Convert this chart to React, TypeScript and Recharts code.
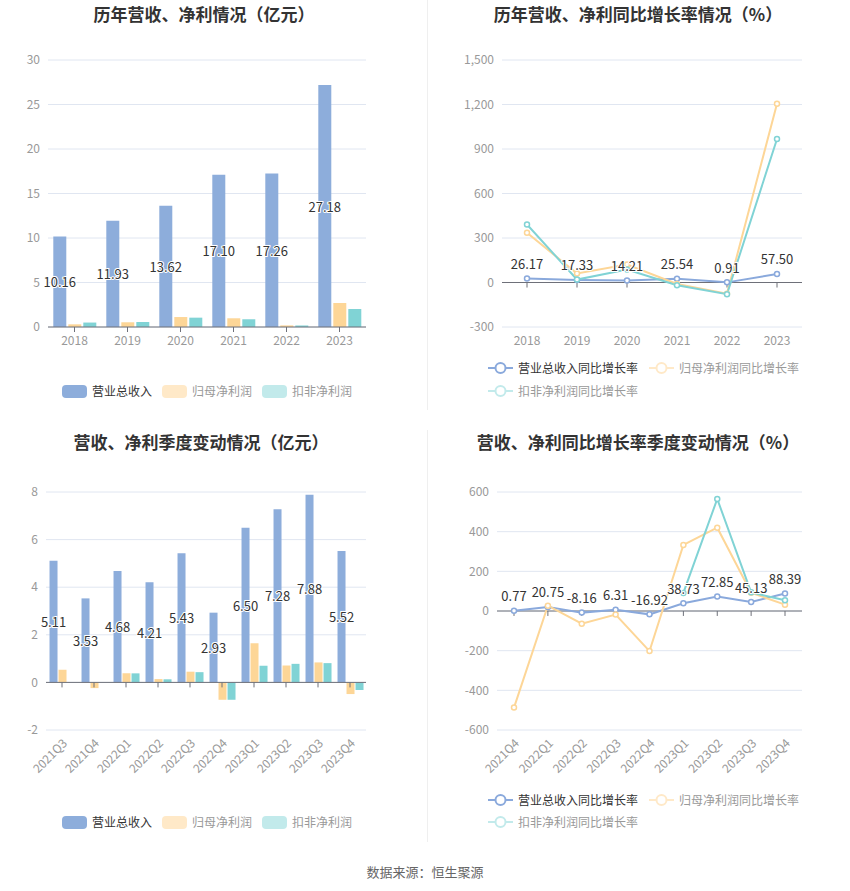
import React from 'react';
import {
  BarChart,
  Bar,
  LineChart,
  Line,
  XAxis,
  YAxis,
  CartesianGrid,
  ReferenceLine,
  LabelList,
} from 'recharts';

// ---------- DATA ----------
const years = ['2018', '2019', '2020', '2021', '2022', '2023'];
const annualRevenue = [10.16, 11.93, 13.62, 17.1, 17.26, 27.18];
const annualNetProfit = [0.3, 0.53, 1.12, 0.98, 0.18, 2.7];
const annualDeducted = [0.5, 0.56, 1.05, 0.87, 0.17, 2.02];

const annualRevenueYoY = [26.17, 17.33, 14.21, 25.54, 0.91, 57.5];
const annualNetProfitYoY = [335, 61, 121, -10, -75, 1205];
const annualDeductedYoY = [391, 20, 88, -18, -79, 967];

const quarters = ['2021Q3', '2021Q4', '2022Q1', '2022Q2', '2022Q3', '2022Q4', '2023Q1', '2023Q2', '2023Q3', '2023Q4'];
const qRevenue = [5.11, 3.53, 4.68, 4.21, 5.43, 2.93, 6.5, 7.28, 7.88, 5.52];
const qNetProfit = [0.53, -0.24, 0.38, 0.14, 0.45, -0.73, 1.64, 0.71, 0.84, -0.49];
const qDeducted: (number | null)[] = [null, null, 0.38, 0.13, 0.43, -0.73, 0.7, 0.78, 0.81, -0.32];

const yoyQuarters = ['2021Q4', '2022Q1', '2022Q2', '2022Q3', '2022Q4', '2023Q1', '2023Q2', '2023Q3', '2023Q4'];
const qRevenueYoY = [0.77, 20.75, -8.16, 6.31, -16.92, 38.73, 72.85, 45.13, 88.39];
const qNetProfitYoY = [-487, 27, -64, -18, -202, 333, 420, 92, 32];
const qDeductedYoY: (number | null)[] = [null, null, null, null, null, 91, 565, 94, 54];

const ticks1 = [0, 5, 10, 15, 20, 25, 30];
const ticks2 = [-300, 0, 300, 600, 900, 1200, 1500];
const ticks3 = [-2, 0, 2, 4, 6, 8];
const ticks4 = [-600, -400, -200, 0, 200, 400, 600];

const titles = [
  '历年营收、净利情况（亿元）',
  '历年营收、净利同比增长率情况（%）',
  '营收、净利季度变动情况（亿元）',
  '营收、净利同比增长率季度变动情况（%）',
];
const barLegend = ['营业总收入', '归母净利润', '扣非净利润'];
const lineLegend = ['营业总收入同比增长率', '归母净利润同比增长率', '扣非净利润同比增长率'];
const source = '数据来源：恒生聚源';

// ---------- TABLES ----------
const annualBars = years.map((c, i) => ({ c, rev: annualRevenue[i], np: annualNetProfit[i], dp: annualDeducted[i] }));
const annualLines = years.map((c, i) => ({ c, rev: annualRevenueYoY[i], np: annualNetProfitYoY[i], dp: annualDeductedYoY[i] }));
const qBars = quarters.map((c, i) => ({ c, rev: qRevenue[i], np: qNetProfit[i], dp: qDeducted[i] }));
const qLines = yoyQuarters.map((c, i) => ({ c, rev: qRevenueYoY[i], np: qNetProfitYoY[i], dp: qDeductedYoY[i] }));

// ---------- STYLE ----------
const FONT = "'Microsoft YaHei', 'Noto Sans CJK SC', sans-serif";
const BLUE = '#8DADDB';
const ORANGE = '#FDD697';
const CYAN = '#80D3D5';
const BLUE_L = '#8AA9DC';
const AXIS = '#6E7079';
const GRID = '#E0E6F1';
const TICK_COLOR = '#999';

const fmt2 = (v: any) => (typeof v === 'number' ? v.toFixed(2) : v);
const fmtThousands = (v: number) => v.toLocaleString('en-US');

const BarValueLabel = (props: any) => {
  const { x, y, width, height, value } = props;
  if (value == null) return null;
  return (
    <text
      x={x + width / 2}
      y={y + height / 2}
      textAnchor="middle"
      dominantBaseline="central"
      fill="#333"
      stroke="#fff"
      strokeWidth={2}
      paintOrder="stroke"
      fontSize={13}
      fontFamily={FONT}
    >
      {fmt2(value)}
    </text>
  );
};

const PointValueLabel = (props: any) => {
  const { x, y, value } = props;
  if (value == null) return null;
  return (
    <text
      x={x}
      y={y - 15}
      textAnchor="middle"
      dominantBaseline="central"
      fill="#333"
      stroke="#fff"
      strokeWidth={2}
      paintOrder="stroke"
      fontSize={13}
      fontFamily={FONT}
    >
      {fmt2(value)}
    </text>
  );
};

const tickStyle = { fill: TICK_COLOR, fontSize: 12, fontFamily: FONT };

const dotStyle = (color: string) => ({ r: 2.5, stroke: color, strokeWidth: 1.5, fill: '#fff' });

const Title = ({ text, cx, cy }: { text: string; cx: number; cy: number }) => (
  <div
    style={{
      position: 'absolute',
      left: cx - 200,
      width: 400,
      top: cy - 12,
      height: 24,
      lineHeight: '24px',
      textAlign: 'center',
      fontSize: 17,
      fontWeight: 700,
      color: '#333',
      fontFamily: FONT,
      whiteSpace: 'nowrap',
    }}
  >
    {text}
  </div>
);

const BarLegendItem = ({ x, cy, color, text, textColor }: any) => (
  <div style={{ position: 'absolute', left: x, top: cy - 9, height: 18, display: 'flex', alignItems: 'center', fontFamily: FONT }}>
    <div style={{ width: 25, height: 13, borderRadius: 4, background: color }} />
    <span style={{ marginLeft: 5, fontSize: 12, color: textColor, lineHeight: '18px' }}>{text}</span>
  </div>
);

const LineLegendItem = ({ x, cy, color, text, textColor }: any) => (
  <div style={{ position: 'absolute', left: x, top: cy - 9, height: 18, display: 'flex', alignItems: 'center', fontFamily: FONT }}>
    <svg width={25} height={14}>
      <line x1={0} y1={7} x2={25} y2={7} stroke={color} strokeWidth={2} />
      <circle cx={12.5} cy={7} r={5} stroke={color} strokeWidth={2} fill="#fff" />
    </svg>
    <span style={{ marginLeft: 5, fontSize: 12, color: textColor, lineHeight: '18px' }}>{text}</span>
  </div>
);

const zeroTicks = (cats: string[], len: number) =>
  cats.map((c) => (
    <ReferenceLine key={'t' + c} segment={[{ x: c, y: 0 }, { x: c, y: -len }]} stroke={AXIS} strokeWidth={1} />
  ));

export default function App() {
  return (
    <div style={{ position: 'absolute', left: 0, top: 0, width: 850, height: 891, background: '#fff', fontFamily: FONT }}>
      {/* separators */}
      <div style={{ position: 'absolute', left: 427, top: 0, width: 1, height: 410, background: '#EFEFEF' }} />
      <div style={{ position: 'absolute', left: 427, top: 430, width: 1, height: 412, background: '#EFEFEF' }} />

      <Title text={titles[0]} cx={204} cy={14} />
      <Title text={titles[1]} cx={638} cy={14} />
      <Title text={titles[2]} cx={201} cy={442} />
      <Title text={titles[3]} cx={638} cy={442} />

      {/* Chart 1 */}
      <div style={{ position: 'absolute', left: 0, top: 0 }}>
        <BarChart width={425} height={360} data={annualBars} margin={{ top: 60, right: 59, left: 0, bottom: 3 }} barCategoryGap="10%" barGap={2}>
          <CartesianGrid vertical={false} stroke={GRID} />
          <XAxis dataKey="c" height={30} tick={tickStyle} axisLine={{ stroke: AXIS }} tickLine={{ stroke: AXIS }} tickSize={5} tickMargin={4} />
          <YAxis width={48} domain={[0, 30]} ticks={ticks1} tick={tickStyle} axisLine={false} tickLine={false} interval={0} />
          <Bar dataKey="rev" fill={BLUE} isAnimationActive={false}>
            <LabelList dataKey="rev" content={BarValueLabel} />
          </Bar>
          <Bar dataKey="np" fill={ORANGE} isAnimationActive={false} />
          <Bar dataKey="dp" fill={CYAN} isAnimationActive={false} />
        </BarChart>
      </div>

      {/* Chart 2 */}
      <div style={{ position: 'absolute', left: 425, top: 0 }}>
        <LineChart width={425} height={360} data={annualLines} margin={{ top: 60, right: 48, left: 0, bottom: 3 }}>
          <CartesianGrid vertical={false} stroke={GRID} />
          <XAxis dataKey="c" height={30} padding={{ left: 25, right: 25 }} tick={tickStyle} axisLine={false} tickLine={false} tickSize={5} tickMargin={4} />
          <YAxis width={77} domain={[-300, 1500]} ticks={ticks2} tick={tickStyle} tickFormatter={fmtThousands} axisLine={false} tickLine={false} interval={0} />
          <ReferenceLine y={0} stroke={AXIS} />
          {zeroTicks(years, 34)}
          <Line dataKey="rev" stroke={BLUE_L} strokeWidth={2} dot={dotStyle(BLUE_L)} isAnimationActive={false}>
            <LabelList dataKey="rev" content={PointValueLabel} />
          </Line>
          <Line dataKey="np" stroke={ORANGE} strokeWidth={2} dot={dotStyle(ORANGE)} isAnimationActive={false} />
          <Line dataKey="dp" stroke={CYAN} strokeWidth={2} dot={dotStyle(CYAN)} isAnimationActive={false} />
        </LineChart>
      </div>

      {/* Chart 3 */}
      <div style={{ position: 'absolute', left: 0, top: 430 }}>
        <BarChart width={425} height={370} data={qBars} margin={{ top: 62, right: 59, left: 0, bottom: 10 }} barCategoryGap="11%" barGap={1}>
          <CartesianGrid vertical={false} stroke={GRID} />
          <XAxis dataKey="c" height={60} tick={{ ...tickStyle, angle: -45, textAnchor: 'end' } as any} axisLine={false} tickLine={false} tickSize={5} tickMargin={3} interval={0} />
          <YAxis width={46} domain={[-2, 8]} ticks={ticks3} tick={tickStyle} axisLine={false} tickLine={false} interval={0} />
          <ReferenceLine y={0} stroke={AXIS} />
          {zeroTicks(quarters, 0.21)}
          <Bar dataKey="rev" fill={BLUE} isAnimationActive={false}>
            <LabelList dataKey="rev" content={BarValueLabel} />
          </Bar>
          <Bar dataKey="np" fill={ORANGE} isAnimationActive={false} />
          <Bar dataKey="dp" fill={CYAN} isAnimationActive={false} />
        </BarChart>
      </div>

      {/* Chart 4 */}
      <div style={{ position: 'absolute', left: 425, top: 430 }}>
        <LineChart width={425} height={370} data={qLines} margin={{ top: 62, right: 48, left: 0, bottom: 10 }}>
          <CartesianGrid vertical={false} stroke={GRID} />
          <XAxis dataKey="c" height={60} padding={{ left: 17, right: 17 }} tick={{ ...tickStyle, angle: -45, textAnchor: 'end' } as any} axisLine={false} tickLine={false} tickSize={5} tickMargin={3} interval={0} />
          <YAxis width={72} domain={[-600, 600]} ticks={ticks4} tick={tickStyle} axisLine={false} tickLine={false} interval={0} />
          <ReferenceLine y={0} stroke={AXIS} />
          {zeroTicks(yoyQuarters, 25)}
          <Line dataKey="rev" stroke={BLUE_L} strokeWidth={2} dot={dotStyle(BLUE_L)} isAnimationActive={false}>
            <LabelList dataKey="rev" content={PointValueLabel} />
          </Line>
          <Line dataKey="np" stroke={ORANGE} strokeWidth={2} dot={dotStyle(ORANGE)} isAnimationActive={false} />
          <Line dataKey="dp" stroke={CYAN} strokeWidth={2} dot={dotStyle(CYAN)} isAnimationActive={false} connectNulls={false} />
        </LineChart>
      </div>

      {/* Legends */}
      <BarLegendItem x={62} cy={391} color={BLUE} text={barLegend[0]} textColor="#333" />
      <BarLegendItem x={162} cy={391} color="#FFE9C8" text={barLegend[1]} textColor="#999" />
      <BarLegendItem x={262} cy={391} color="#C2EAEB" text={barLegend[2]} textColor="#999" />

      <LineLegendItem x={488} cy={368} color={BLUE_L} text={lineLegend[0]} textColor="#333" />
      <LineLegendItem x={649} cy={368} color="#FFE9C8" text={lineLegend[1]} textColor="#999" />
      <LineLegendItem x={488} cy={391} color="#C2EAEB" text={lineLegend[2]} textColor="#999" />

      <BarLegendItem x={62} cy={822} color={BLUE} text={barLegend[0]} textColor="#333" />
      <BarLegendItem x={162} cy={822} color="#FFE9C8" text={barLegend[1]} textColor="#999" />
      <BarLegendItem x={262} cy={822} color="#C2EAEB" text={barLegend[2]} textColor="#999" />

      <LineLegendItem x={488} cy={800} color={BLUE_L} text={lineLegend[0]} textColor="#333" />
      <LineLegendItem x={649} cy={800} color="#FFE9C8" text={lineLegend[1]} textColor="#999" />
      <LineLegendItem x={488} cy={822} color="#C2EAEB" text={lineLegend[2]} textColor="#999" />

      <div style={{ position: 'absolute', left: 0, width: 850, top: 862, height: 20, lineHeight: '20px', textAlign: 'center', fontSize: 13, color: '#666', fontFamily: FONT }}>
        {source}
      </div>
    </div>
  );
}
